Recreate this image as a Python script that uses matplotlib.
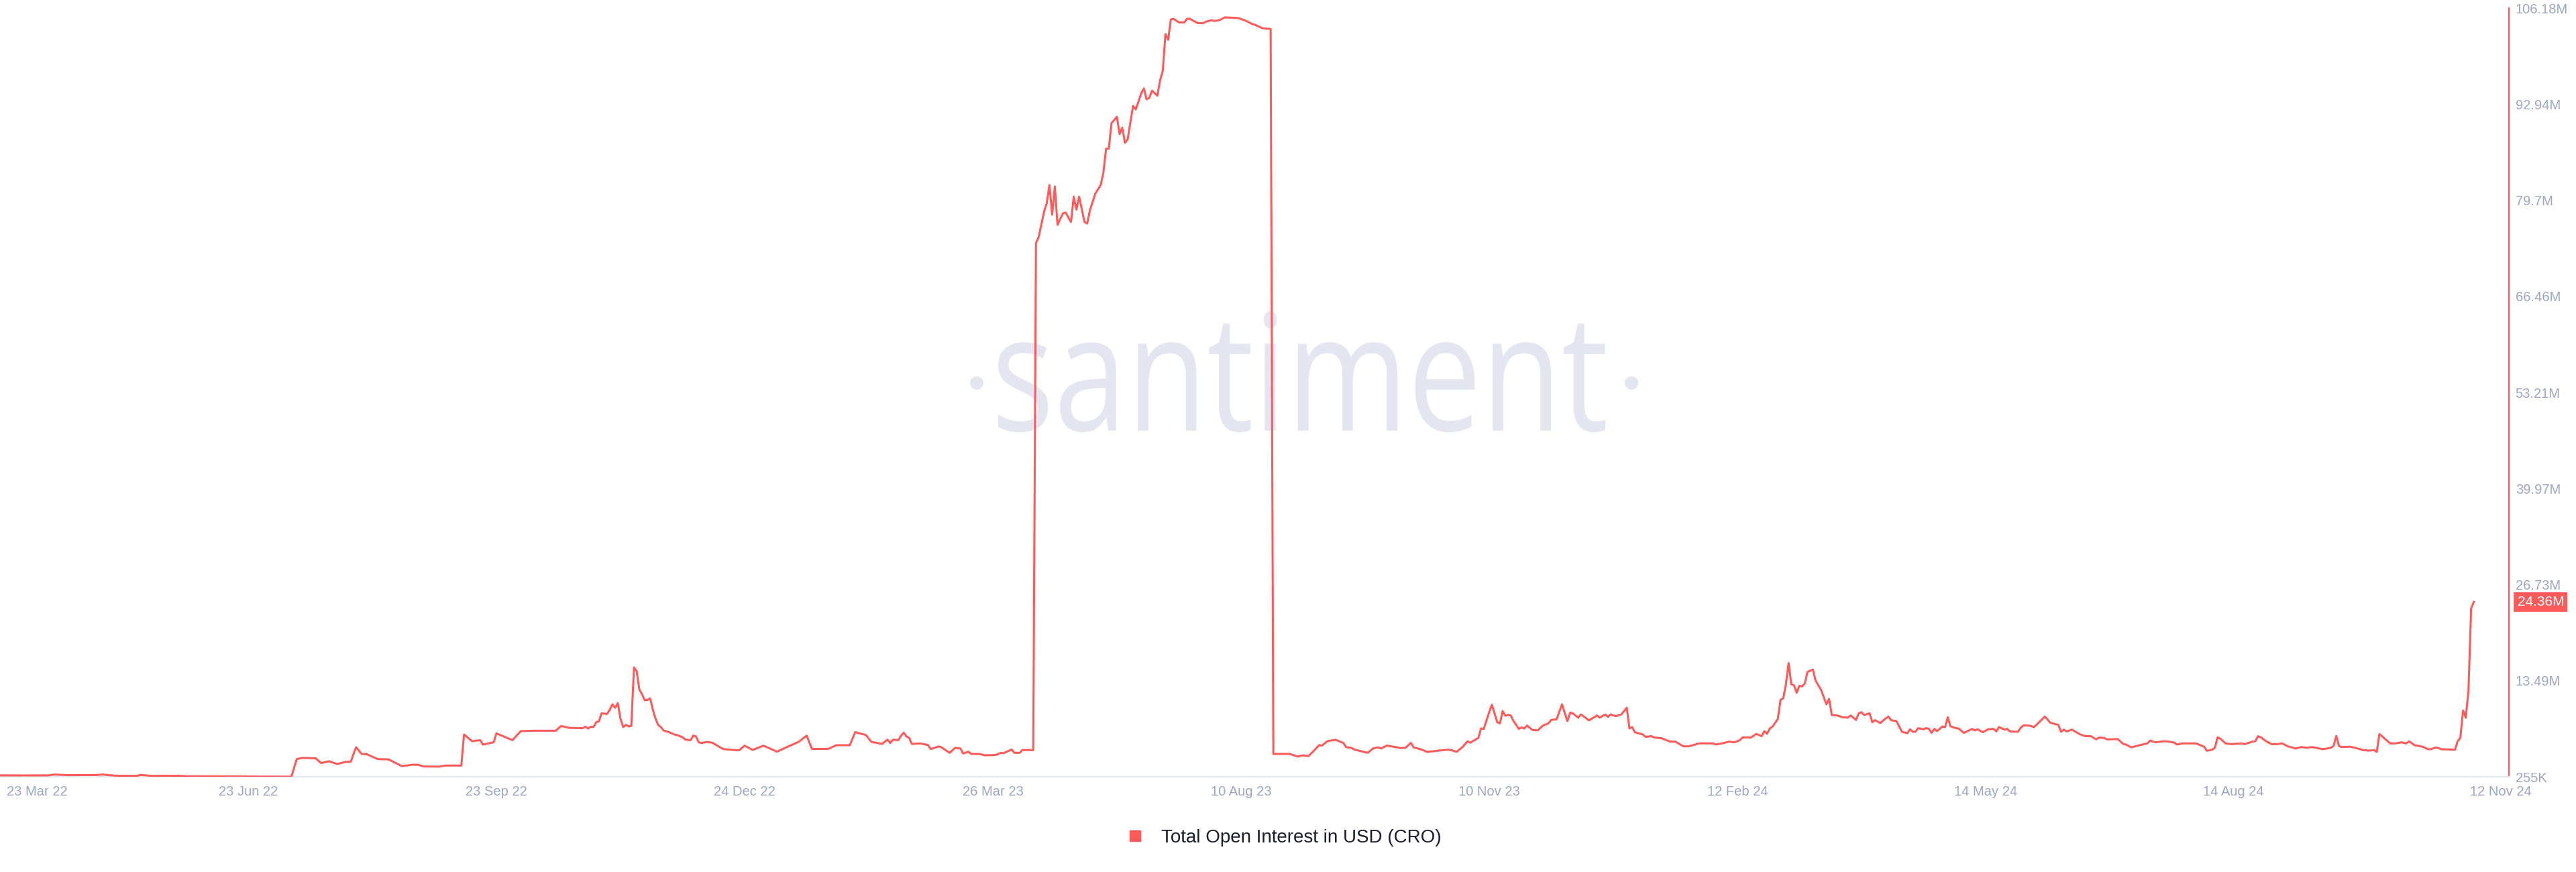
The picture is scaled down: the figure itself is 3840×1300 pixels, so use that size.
import matplotlib
matplotlib.use('Agg')
import matplotlib.pyplot as plt
from matplotlib.lines import Line2D
from matplotlib.patches import PathPatch, Circle
from matplotlib.textpath import TextPath
from matplotlib.font_manager import FontProperties
from matplotlib.transforms import Affine2D, ScaledTranslation

# Total open interest in USD (CRO), millions of USD
# (day = observation index on the chart's x axis, 23 Mar 22 = 0)
seg_2022_start = [(0, 0.45), (9, 0.44), (18, 0.45), (20, 0.56), (25, 0.48), (36, 0.5), (38, 0.56),
                  (43, 0.4), (51, 0.38), (52, 0.52), (56, 0.38), (66, 0.4), (69, 0.33), (84, 0.3),
                  (99, 0.27), (108, 0.26)]
seg_2022_summer = [(110, 2.69), (112, 2.85), (117, 2.8), (119, 2.14), (122, 2.39), (125, 2.0), (128, 2.3),
                   (130, 2.32), (132, 4.33), (134, 3.4), (136, 3.35), (140, 2.69), (144, 2.65), (149, 1.71),
                   (153, 1.92), (155, 1.9), (157, 1.67), (163, 1.65), (165, 1.8), (171, 1.8)]
seg_2022_autumn = [(172, 6.07), (175, 5.15), (178, 5.3), (179, 4.69), (183, 5.0), (184, 6.24), (188, 5.6),
                   (190, 5.3), (193, 6.54), (198, 6.6), (206, 6.6), (208, 7.25), (211, 6.99), (216, 6.95),
                   (217, 7.15), (218, 6.9), (219, 7.15), (220, 7.1), (221, 7.78), (222, 7.9), (223, 9.0),
                   (225, 8.9), (226, 9.47), (227, 10.23), (228, 9.75), (229, 10.4), (230, 8.24), (231, 7.09),
                   (232, 7.4), (233, 7.2), (234, 7.25), (235, 15.31), (236, 14.8), (237, 12.24), (238, 11.62),
                   (239, 10.79), (240, 10.85), (241, 11.07), (242, 9.47), (243, 8.24), (244, 7.37), (245, 7.1),
                   (246, 6.62), (248, 6.4), (250, 6.07), (251, 6.0), (253, 5.7), (254, 5.38), (256, 5.3),
                   (257, 5.93), (258, 5.8), (259, 5.0), (260, 4.9), (262, 5.05), (264, 4.95)]
seg_2023_winter = [(268, 4.08), (273, 3.9), (274, 3.9), (276, 4.54), (279, 3.95), (283, 4.54), (288, 3.71),
                   (292, 4.4), (296, 5.05), (299, 5.92), (301, 4.08), (304, 4.1), (307, 4.1), (310, 4.6),
                   (315, 4.6), (317, 6.4), (321, 6.0), (323, 5.06), (327, 4.78), (329, 5.37), (330, 4.9),
                   (331, 5.37), (333, 5.3), (334, 5.92), (335, 6.33), (336, 5.8), (337, 5.62), (338, 4.78),
                   (341, 4.85), (344, 4.63), (345, 4.07), (348, 4.44), (349, 4.3), (352, 3.55), (354, 4.23),
                   (356, 4.15), (357, 3.46), (359, 3.7), (360, 3.4), (363, 3.4), (365, 3.21), (369, 3.25),
                   (371, 3.55), (372, 3.5), (375, 4.01), (376, 3.55), (378, 3.55), (379, 3.95), (383, 3.92)]
seg_2023_plateau = [(384, 73.8), (385, 74.6), (387, 78.1), (388, 79.3), (389, 81.8), (390, 77.7), (391, 81.6),
                    (392, 76.3), (394, 77.9), (395, 78.0), (397, 76.7), (398, 80.2), (399, 78.4), (400, 80.2),
                    (402, 76.7), (403, 76.5), (404, 78.3), (406, 80.6), (408, 81.8), (409, 83.5), (410, 86.8),
                    (411, 86.8), (412, 90.3), (414, 91.2), (415, 88.8), (416, 89.7), (417, 87.6), (418, 88.1),
                    (420, 92.7), (421, 92.2), (423, 94.4), (424, 95.1), (425, 93.6), (426, 93.8), (427, 94.8),
                    (429, 94.1), (430, 96.2), (431, 97.5), (432, 102.6), (433, 101.8), (434, 104.6), (435, 104.7),
                    (437, 104.2), (439, 104.2), (440, 104.7), (441, 104.7), (444, 104.1), (446, 104.1),
                    (447, 104.3), (449, 104.5), (450, 104.4), (452, 104.5), (454, 104.9), (459, 104.8),
                    (462, 104.4), (464, 104.0), (465, 103.9), (468, 103.4), (471, 103.3)]
seg_2023_autumn = [(472, 3.4), (478, 3.4), (481, 3.05), (483, 3.2), (485, 3.1), (487, 3.83), (489, 4.62),
                   (490, 4.55), (492, 5.15), (495, 5.36), (498, 4.9), (499, 4.32), (501, 4.25), (502, 4.0),
                   (507, 3.55), (509, 4.17), (511, 4.3), (512, 4.15), (514, 4.55), (518, 4.3), (519, 4.2),
                   (521, 4.25), (523, 4.92), (524, 4.3), (527, 4.0), (529, 3.67), (532, 3.8), (537, 4.0),
                   (540, 3.7), (542, 4.3), (544, 5.15), (545, 4.95), (548, 5.62), (549, 6.91), (550, 6.85),
                   (552, 9.16), (553, 10.17), (555, 7.77), (556, 7.6), (557, 9.31), (558, 8.65), (559, 8.8),
                   (560, 8.7), (561, 7.95), (563, 6.85), (564, 7.05), (565, 6.9), (566, 7.32), (568, 6.7),
                   (570, 6.65), (572, 7.32), (574, 7.62), (575, 8.08), (577, 8.18), (579, 10.23), (581, 7.92),
                   (582, 9.08), (583, 9.0), (585, 8.39), (586, 8.85), (589, 8.02), (592, 8.7), (593, 8.4),
                   (595, 8.85), (596, 8.5), (597, 8.85), (599, 8.6), (601, 8.85), (603, 9.77), (604, 6.91),
                   (605, 7.1), (606, 6.39), (609, 6.07), (610, 5.75), (612, 5.85), (613, 5.69), (616, 5.55),
                   (619, 5.1), (621, 5.1), (624, 4.45), (626, 4.45), (630, 4.86)]
seg_2024_spring = [(635, 4.85), (636, 4.7), (639, 4.9), (641, 5.1), (643, 5.0), (645, 5.32), (646, 5.69),
                   (649, 5.65), (651, 6.15), (653, 5.85), (654, 6.54), (655, 6.17), (656, 6.91), (657, 7.15),
                   (659, 8.23), (660, 10.86), (661, 11.05), (662, 13.0), (663, 15.93), (664, 13.0), (665, 12.85),
                   (666, 11.83), (667, 12.8), (668, 12.7), (669, 13.1), (670, 14.71), (672, 15.02), (673, 13.48),
                   (675, 12.24), (677, 10.23), (678, 11.0), (679, 8.76), (681, 8.7), (683, 8.45), (685, 8.4),
                   (686, 8.7), (688, 8.08), (689, 9.0), (690, 9.15), (691, 8.76), (693, 9.0), (694, 7.77),
                   (695, 8.05), (697, 7.65), (698, 8.0), (700, 8.55), (701, 8.05), (703, 7.9), (705, 6.45),
                   (707, 6.25), (708, 6.8), (709, 6.45), (710, 6.45), (711, 6.95), (713, 6.8), (714, 6.95),
                   (715, 6.85), (716, 6.3), (717, 6.85), (718, 6.55), (720, 7.17), (721, 7.1), (722, 8.45),
                   (723, 7.2), (725, 6.95), (726, 6.9), (728, 6.3), (731, 6.85), (732, 6.65), (733, 6.8),
                   (735, 6.4), (737, 6.8), (739, 6.85), (740, 6.5), (741, 7.1), (743, 6.75), (744, 6.85),
                   (745, 6.5), (748, 6.45), (749, 6.99), (750, 7.32), (752, 7.32), (754, 7.1), (755, 7.45),
                   (758, 8.55), (760, 7.7), (763, 7.4), (764, 6.45), (765, 6.75), (766, 6.5), (768, 6.75)]
seg_2024_autumn = [(771, 6.1), (773, 5.85), (775, 5.85), (777, 5.4), (778, 5.65), (780, 5.6), (781, 5.4),
                   (785, 5.45), (787, 4.78), (788, 4.7), (790, 4.3), (792, 4.5), (796, 4.86), (797, 5.23),
                   (799, 5.0), (802, 5.15), (804, 5.1), (806, 4.95), (807, 4.7), (809, 4.85), (814, 4.85),
                   (816, 4.55), (817, 4.4), (818, 3.83), (820, 3.98), (821, 4.25), (822, 5.69), (823, 5.5),
                   (825, 4.85), (827, 4.75), (831, 4.85), (832, 4.75), (835, 5.1), (836, 5.15), (837, 5.84),
                   (838, 5.7), (840, 5.15), (842, 4.75), (844, 4.75), (846, 4.85), (848, 4.45), (851, 4.15),
                   (853, 4.35), (855, 4.25), (857, 4.35), (861, 4.05), (864, 4.25), (865, 4.5), (866, 5.87),
                   (867, 4.5), (868, 4.35), (871, 4.4), (873, 4.25), (876, 3.93), (878, 3.85), (880, 3.93),
                   (881, 3.67), (882, 6.14), (884, 5.5), (886, 4.85), (888, 4.85), (890, 5.0), (892, 4.85),
                   (893, 5.15), (895, 4.6), (898, 4.4), (900, 4.05), (901, 4.05), (903, 4.3), (905, 4.05),
                   (910, 3.99), (911, 5.15), (912, 5.62), (913, 9.38), (914, 8.39), (915, 12.09),
                   (916, 23.47), (917, 24.36)]

tick_days = [0, 92, 184, 276, 368, 460, 552, 644, 736, 828, 927]
tick_labels = ['23 Mar 22', '23 Jun 22', '23 Sep 22', '24 Dec 22', '26 Mar 23', '10 Aug 23',
               '10 Nov 23', '12 Feb 24', '14 May 24', '14 Aug 24', '12 Nov 24']
y_ticks = [0.255, 13.49, 26.73, 39.97, 53.21, 66.46, 79.7, 92.94, 106.18]
y_labels = ['255K', '13.49M', '26.73M', '39.97M', '53.21M', '66.46M', '79.7M', '92.94M', '106.18M']
series_name = 'Total Open Interest in USD (CRO)'

points = (seg_2022_start + seg_2022_summer + seg_2022_autumn + seg_2023_winter + seg_2023_plateau
          + seg_2023_autumn + seg_2024_spring + seg_2024_autumn)
days = [p[0] for p in points]
oi_musd = [p[1] for p in points]

RED = '#ff5a5a'
GREY = '#9ca6c2'
WM = '#e3e6f0'
W, H = 3840, 1300

plt.rcParams['font.family'] = ['Liberation Sans', 'DejaVu Sans']
fig = plt.figure(figsize=(W / 100, H / 100), dpi=100)
ax = fig.add_axes([0, 142 / H, 3740 / W, 1146 / H])
ax.set_facecolor('none')

# watermark "·santiment·" behind the plot
px = Affine2D().scale(1 / W, 1 / H) + fig.transFigure
tp = TextPath((0, 0), 'santiment', size=100, prop=FontProperties(family='Open Sans', weight='normal'))
ext = tp.get_extents()
wm_tr = Affine2D().translate(-ext.x0, 0).scale(905 / ext.width, 178 / ext.y1).translate(1488, 658)
fig.add_artist(PathPatch(tp, transform=wm_tr + px, facecolor=WM, lw=0, zorder=-1))
fig.add_artist(Circle((1456, 729), 10, transform=px, facecolor=WM, lw=0, zorder=-1))
fig.add_artist(Circle((2432, 729), 10, transform=px, facecolor=WM, lw=0, zorder=-1))

ax.plot(days, oi_musd, color=RED, lw=2.2, solid_joinstyle='round', zorder=3)

ax.set_xlim(0, 930)
ax.set_ylim(y_ticks[0], y_ticks[-1])
for s in ['top', 'left']:
    ax.spines[s].set_visible(False)
ax.spines['bottom'].set_color('#e3e7f0')
ax.spines['bottom'].set_linewidth(1.6)
ax.spines['right'].set_color(RED)
ax.spines['right'].set_linewidth(1.6)

ax.yaxis.tick_right()
ax.set_yticks(y_ticks)
ax.set_yticklabels(y_labels)
ax.set_xticks(tick_days)
ax.set_xticklabels(tick_labels)
ax.tick_params(axis='y', length=0, pad=7, labelsize=14.5, labelcolor=GREY)
ax.tick_params(axis='x', length=0, pad=9, labelsize=14.5, labelcolor=GREY)
first = ax.xaxis.get_ticklabels()[0]
first.set_horizontalalignment('left')
first.set_transform(first.get_transform() + ScaledTranslation(10 / 100, 0, fig.dpi_scale_trans))

# last value badge
ax.annotate(f'{oi_musd[-1]:.2f}M', xy=(1, oi_musd[-1]), xycoords=('axes fraction', 'data'),
            xytext=(9, 0), textcoords='offset points', ha='left', va='center',
            fontsize=15, color='white',
            bbox=dict(boxstyle='square,pad=0.25', facecolor=RED, edgecolor='none'))

fig.legend(handles=[Line2D([], [], marker='s', ls='', color=RED, markersize=12)],
           labels=[series_name], loc='center', bbox_to_anchor=(1906 / W, 51 / H),
           frameon=False, fontsize=20, handletextpad=0.4, labelcolor='#1b1e2c')

fig.savefig('out.png', dpi=100)
